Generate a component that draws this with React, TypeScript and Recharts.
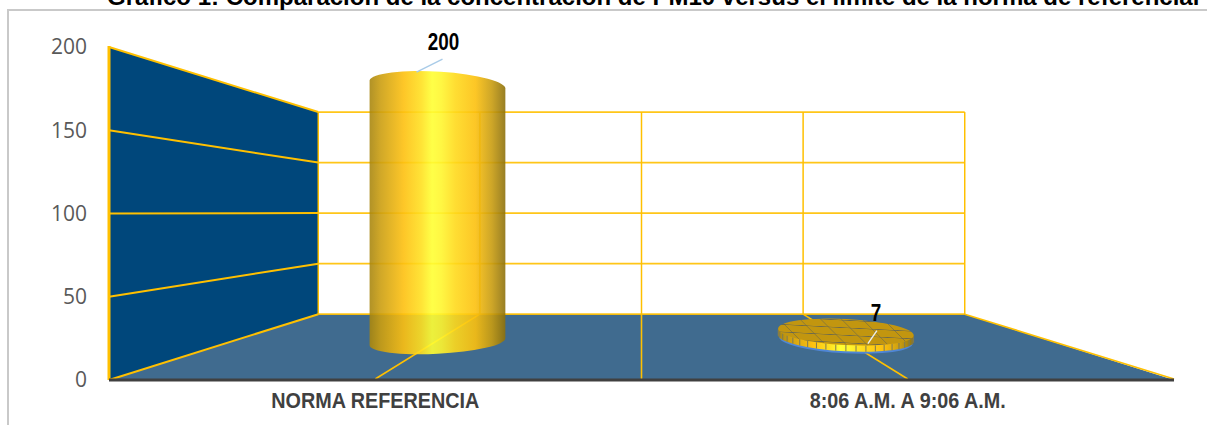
import { BarChart, Bar, XAxis, YAxis, ReferenceArea } from 'recharts';

const categories = ['NORMA REFERENCIA', '8:06 A.M. A 9:06 A.M.'];
const values = [200, 7];
const yTicks = [0, 50, 100, 150, 200];

const rows = categories.map((name, i) => ({ name, value: values[i] }));

const CHART_W = 1207;
const CHART_H = 425;
const PLOT_LEFT = 109;
const PLOT_RIGHT = 1174;

// fake 3D: front plane is the recharts plot area, everything else shrinks to this point
const VANISH_X = (PLOT_LEFT + PLOT_RIGHT) / 2;
const VANISH_Y = 212.5;
const BACK = 0.607;
const MID = 0.751;
const MID_X = 0.767;
const boldFont = '"Liberation Sans", Arial, sans-serif';

const midY = (v: number) => VANISH_Y + (v - VANISH_Y) * MID;
const midX = (v: number) => VANISH_X + (v - VANISH_X) * MID_X;

function Room({ x, y, width, height }: any) {
  const px = (v: number, s: number) => VANISH_X + (v - VANISH_X) * s;
  const py = (v: number, s: number) => VANISH_Y + (v - VANISH_Y) * s;
  const bottom = y + height;
  const right = x + width;
  const tickY = (t: number) => bottom - (t / 200) * height;
  const bands = categories.map((_, i) => x + (width * (i + 0.5)) / categories.length);
  const backVerticals = [x, ...bands, VANISH_X, right];
  const line = '#ffc000';

  return (
    <g>
      <polygon
        points={`${x},${bottom} ${px(x, BACK)},${py(bottom, BACK)} ${px(right, BACK)},${py(bottom, BACK)} ${right},${bottom}`}
        fill="#406b8f"
      />
      <polygon
        points={`${x},${y} ${px(x, BACK)},${py(y, BACK)} ${px(x, BACK)},${py(bottom, BACK)} ${x},${bottom}`}
        fill="#00477b"
      />
      {yTicks.map((t) => (
        <g key={t}>
          <line x1={x} y1={tickY(t)} x2={px(x, BACK)} y2={py(tickY(t), BACK)} stroke={line} strokeWidth={2} />
          <line x1={px(x, BACK)} y1={py(tickY(t), BACK)} x2={px(right, BACK)} y2={py(tickY(t), BACK)} stroke={line} strokeWidth={1.7} opacity={0.9} />
        </g>
      ))}
      {backVerticals.map((v) => (
        <line key={v} x1={px(v, BACK)} y1={py(y, BACK)} x2={px(v, BACK)} y2={py(bottom, BACK)} stroke={line} strokeWidth={1.5} />
      ))}
      {[...bands, VANISH_X, right].map((v) => (
        <line key={v} x1={v} y1={bottom - 1} x2={px(v, BACK)} y2={py(bottom, BACK)} stroke={line} strokeWidth={1.6} />
      ))}
      <line x1={x} y1={y - 1} x2={x} y2={bottom} stroke={line} strokeWidth={3} />
    </g>
  );
}

function barGradient(id: string) {
  return (
    <linearGradient id={id} x1="0" y1="0" x2="1" y2="0">
      <stop offset="0" stopColor="#a8860f" />
      <stop offset="0.08" stopColor="#cb9e10" />
      <stop offset="0.25" stopColor="#fdc010" />
      <stop offset="0.38" stopColor="#ffe020" />
      <stop offset="0.46" stopColor="#ffff33" />
      <stop offset="0.53" stopColor="#fff52e" />
      <stop offset="0.63" stopColor="#ffda1c" />
      <stop offset="0.78" stopColor="#fcc00e" />
      <stop offset="0.9" stopColor="#c89c10" />
      <stop offset="1" stopColor="#8c700c" />
    </linearGradient>
  );
}

function Cylinder({ x, y, width, height, index }: any) {
  const cx = midX(x + width / 2);
  const rx = (width * MID_X) / 2;
  const top = midY(y);
  const bottom = midY(y + height);

  if (values[index] < 20) {
    // the short bar shows its lid, so it reads as a tiled disc
    const ry = 13;
    const tilt = 3;
    const dy = Math.sin((tilt * Math.PI) / 180) * rx;
    const lidY = top + 2.5;
    const segments = Array.from({ length: 21 }, (_, k) => (k + 0.5) / 21);
    return (
      <g>
        <defs>
          {barGradient('discSide')}
          <pattern id="discTiles" width="22" height="7.5" patternUnits="userSpaceOnUse" patternTransform="translate(775 320) skewX(48)">
            <rect width="22" height="7.5" fill="#c2960f" />
            <path d="M0 0H22M0 0V7.5" stroke="#4f5a60" strokeWidth="1" fill="none" />
          </pattern>
        </defs>
        <ellipse cx={cx} cy={bottom + 2} rx={rx - 1} ry={ry} fill="#4f86d6" transform={`rotate(${tilt} ${cx} ${bottom})`} />
        <path
          d={`M${cx - rx},${lidY - dy} L${cx - rx},${bottom - dy} A${rx},${ry} ${tilt} 0 0 ${cx + rx},${bottom + dy} L${cx + rx},${lidY + dy} Z`}
          fill="url(#discSide)"
        />
        {segments.map((s) => {
          const sx = cx + rx * Math.cos(Math.PI * s);
          const f = Math.sqrt(Math.max(0, 1 - ((sx - cx) / rx) ** 2));
          const shift = ((sx - cx) / rx) * dy;
          return (
            <line key={s} x1={sx} y1={lidY + shift + ry * f} x2={sx} y2={bottom + shift + ry * f} stroke="#7d7a55" strokeWidth={1} />
          );
        })}
        <ellipse cx={cx} cy={lidY} rx={rx} ry={ry} fill="url(#discTiles)" transform={`rotate(${tilt} ${cx} ${lidY})`} />
      </g>
    );
  }

  return (
    <g>
      <defs>{barGradient('barSide')}</defs>
      <path
        d={`M${cx - rx},${top - 8} A${rx},13 3.4 0 1 ${cx + rx},${top + 1} L${cx + rx},${bottom} A${rx},12 -3 0 1 ${cx - rx},${bottom + 7} Z`}
        fill="url(#barSide)"
        opacity={0.9}
      />
    </g>
  );
}

// label spots were moved by hand in the original, hence the leader lines
function BarTag({ x, y, width, value, index }: any) {
  const top = midY(y);
  const cx = midX(x + width / 2);
  const tag = index === 0
    ? { dx: 6, dy: -38, lead: [-21, -16, 5, -29], color: '#a9cbe8' }
    : { dx: 30, dy: -9, lead: [22, 14, 31, 1], color: '#e8eef2' };
  return (
    <g>
      <line
        x1={cx + tag.lead[0]}
        y1={top + tag.lead[1]}
        x2={cx + tag.lead[2]}
        y2={top + tag.lead[3]}
        stroke={tag.color}
        strokeWidth={1.4}
      />
      <text
        transform={`translate(${cx + tag.dx} ${top + tag.dy}) scale(0.82 1)`}
        textAnchor="middle"
        fontFamily={boldFont}
        fontWeight={700}
        fontSize={23}
        fill="#000"
      >
        {value}
      </text>
    </g>
  );
}

function CategoryTick({ x, y, payload }: any) {
  return (
    <text
      transform={`translate(${x} ${y + 20}) scale(0.9 1)`}
      textAnchor="middle"
      fontFamily={boldFont}
      fontWeight={700}
      fontSize={22}
      fill="#404040"
    >
      {payload.value}
    </text>
  );
}

export default function App() {
  return (
    <div style={{ position: 'absolute', left: 0, top: 0, width: CHART_W, height: CHART_H, overflow: 'hidden', background: '#fff' }}>
      <div
        style={{
          position: 'absolute',
          left: 7,
          top: 9,
          width: 1300,
          height: 500,
          border: '2px solid #c9c9c9',
          boxSizing: 'border-box',
        }}
      />
      <div
        style={{
          position: 'absolute',
          left: 107,
          top: -13,
          whiteSpace: 'nowrap',
          fontFamily: boldFont,
          fontWeight: 700,
          fontSize: 24,
          lineHeight: '20px',
          color: '#000',
        }}
      >
        Gráfico 1: Comparación de la concentración de PM10 versus el límite de la norma de referencial
      </div>
      <div style={{ position: 'absolute', left: 0, top: 0 }}>
        <BarChart
          width={CHART_W}
          height={CHART_H}
          data={rows}
          margin={{ top: 47, right: CHART_W - PLOT_RIGHT, bottom: 0, left: PLOT_LEFT - 60 }}
          barSize={177}
        >
          <XAxis
            dataKey="name"
            height={45}
            tickLine={false}
            axisLine={{ stroke: '#404040', strokeWidth: 3 }}
            tick={<CategoryTick />}
            interval={0}
          />
          <YAxis
            width={60}
            domain={[0, 200]}
            ticks={yTicks}
            tickLine={false}
            axisLine={false}
            tickMargin={16}
            tick={{ fontFamily: '"Open Sans", sans-serif', fontSize: 21, fill: '#595959' }}
          />
          <ReferenceArea y1={0} y2={200} shape={<Room />} ifOverflow="extendDomain" />
          <Bar
            dataKey="value"
            isAnimationActive={false}
            shape={<Cylinder />}
            label={<BarTag />}
          />
        </BarChart>
      </div>
    </div>
  );
}
